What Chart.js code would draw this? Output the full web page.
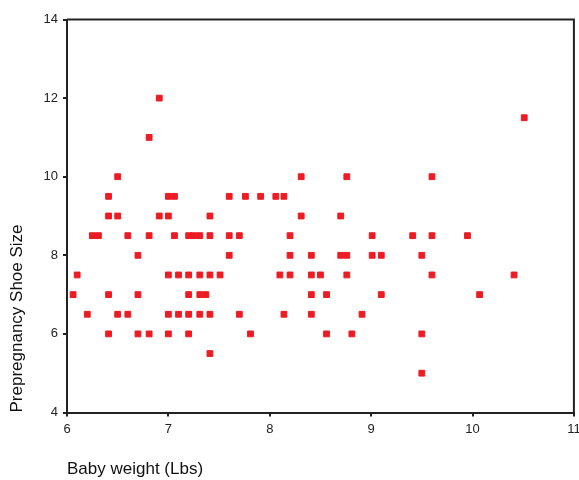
<!DOCTYPE html>
<html>
<head>
<meta charset="utf-8">
<script src="https://cdn.jsdelivr.net/npm/chart.js@4.4.0/dist/chart.umd.min.js"></script>
<style>
  html, body { margin: 0; padding: 0; background: #fff; }
  #wrap { width: 579px; height: 480px; }
</style>
</head>
<body>
<div id="wrap"><canvas id="scatter"></canvas></div>
<script>
// Baby weight (Lbs) vs prepregnancy shoe size
const babyWeight = [
  6.91,
  10.51,
  6.81,
  6.50, 8.31, 8.76, 9.60,
  6.41, 7.00, 7.06, 7.60, 7.76, 7.91, 8.06, 8.14,
  6.41, 6.50, 6.91, 7.00, 7.41, 8.31, 8.70,
  6.25, 6.31, 6.60, 6.81, 7.06, 7.20, 7.25, 7.31, 7.41, 7.60, 7.70, 8.20, 9.01, 9.41, 9.60, 9.95,
  6.70, 7.60, 8.20, 8.41, 8.70, 8.76, 9.01, 9.10, 9.50,
  6.10, 7.00, 7.10, 7.20, 7.31, 7.41, 7.51, 8.10, 8.20, 8.41, 8.50, 8.76, 9.60, 10.41,
  6.06, 6.41, 6.70, 7.20, 7.31, 7.37, 8.41, 8.56, 9.10, 10.07,
  6.20, 6.50, 6.60, 7.00, 7.10, 7.20, 7.31, 7.41, 7.70, 8.14, 8.41, 8.91,
  6.41, 6.70, 6.81, 7.00, 7.20, 7.81, 8.56, 8.81, 9.50,
  7.41,
  9.50
];
const shoeSize = [
  12,
  11.5,
  11,
  10, 10, 10, 10,
  9.5, 9.5, 9.5, 9.5, 9.5, 9.5, 9.5, 9.5,
  9, 9, 9, 9, 9, 9, 9,
  8.5, 8.5, 8.5, 8.5, 8.5, 8.5, 8.5, 8.5, 8.5, 8.5, 8.5, 8.5, 8.5, 8.5, 8.5, 8.5,
  8, 8, 8, 8, 8, 8, 8, 8, 8,
  7.5, 7.5, 7.5, 7.5, 7.5, 7.5, 7.5, 7.5, 7.5, 7.5, 7.5, 7.5, 7.5, 7.5,
  7, 7, 7, 7, 7, 7, 7, 7, 7, 7,
  6.5, 6.5, 6.5, 6.5, 6.5, 6.5, 6.5, 6.5, 6.5, 6.5, 6.5, 6.5,
  6, 6, 6, 6, 6, 6, 6, 6, 6,
  5.5,
  5
];
const xRange = [6, 11];
const yRange = [4, 14];

const points = babyWeight.map((w, i) => ({ x: w, y: shoeSize[i] }));
const axisColor = '#222';
const red = '#ec1c24';

// closes the frame on top and right like the original plot box
const frame = {
  id: 'frame',
  afterDraw(chart) {
    const { ctx, chartArea: a } = chart;
    ctx.save();
    ctx.strokeStyle = axisColor;
    ctx.lineWidth = 2;
    ctx.beginPath();
    ctx.moveTo(a.left, a.top);
    ctx.lineTo(a.right, a.top);
    ctx.lineTo(a.right, a.bottom);
    ctx.stroke();
    ctx.restore();
  }
};

const ctx = document.getElementById('scatter').getContext('2d');
new Chart(ctx, {
  type: 'scatter',
  data: {
    datasets: [
      {
        data: points,
        pointStyle: 'rect',
        pointRadius: 4.1,
        backgroundColor: red,
        borderColor: red,
        borderWidth: 1
      },
      {
        data: points,
        pointStyle: 'rect',
        pointRadius: 1,
        backgroundColor: '#fde6e7',
        borderWidth: 0
      }
    ]
  },
  options: {
    responsive: true,
    maintainAspectRatio: false,
    animation: false,
    events: [],
    layout: { padding: { top: 19.5, right: 3.5, bottom: 0, left: 0 } },
    plugins: { legend: { display: false }, tooltip: { enabled: false } },
    scales: {
      x: {
        type: 'linear',
        min: xRange[0],
        max: xRange[1],
        ticks: { stepSize: 1, padding: 5, color: axisColor, font: { family: 'Liberation Sans', size: 13 } },
        grid: { drawOnChartArea: false, drawTicks: true, tickLength: 4, color: axisColor, lineWidth: 2 },
        border: { display: true, color: axisColor, width: 2 },
        title: {
          display: true, text: 'Baby weight (Lbs)', align: 'start', color: '#111',
          font: { family: 'Liberation Sans', size: 17 }, padding: { top: 0, bottom: 0 }
        },
        afterFit(scale) { scale.height = 67.5; scale.paddingRight = 0; scale.paddingLeft = 0; }
      },
      y: {
        type: 'linear',
        min: yRange[0],
        max: yRange[1],
        ticks: { stepSize: 2, padding: 5, color: axisColor, font: { family: 'Liberation Sans', size: 13 } },
        grid: { drawOnChartArea: false, drawTicks: true, tickLength: 4, color: axisColor, lineWidth: 2 },
        border: { display: true, color: axisColor, width: 2 },
        title: {
          display: true, text: 'Prepregnancy Shoe Size', align: 'start', color: '#111',
          font: { family: 'Liberation Sans', size: 17 }, padding: { top: 7.3, bottom: 0 }
        },
        afterFit(scale) { scale.width = 67; }
      }
    }
  },
  plugins: [frame]
});
</script>
</body>
</html>
